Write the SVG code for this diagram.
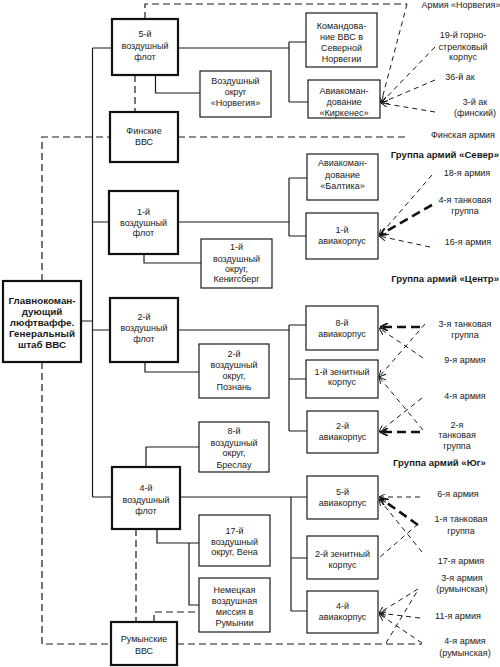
<svg xmlns="http://www.w3.org/2000/svg" width="500" height="667" viewBox="0 0 500 667">
<style>
text{font-family:"Liberation Sans",Arial,sans-serif;font-size:9px;fill:#1a1a1a;text-anchor:middle}
.b{font-weight:bold;font-size:9.8px}
.g{font-weight:bold;font-size:9.6px;text-anchor:start}
.ge{font-weight:bold;font-size:9.6px;text-anchor:end}
.box{fill:#fff;stroke:#1a1a1a;stroke-width:1.2}
.tb{fill:#fff;stroke:#111;stroke-width:2.2}
.s{fill:none;stroke:#1a1a1a;stroke-width:1.2}
.d{fill:none;stroke:#1a1a1a;stroke-width:1.2;stroke-dasharray:7,4}
.a{fill:none;stroke:#1a1a1a;stroke-width:1;stroke-dasharray:5,4;marker-end:url(#ar)}
.n{fill:none;stroke:#1a1a1a;stroke-width:1;stroke-dasharray:5,4}
.t{fill:none;stroke:#111;stroke-width:2.6;stroke-dasharray:9,5;marker-end:url(#ar2)}
</style>
<defs>
<marker id="ar" viewBox="0 0 10 10" refX="10" refY="5" markerWidth="7" markerHeight="7" markerUnits="userSpaceOnUse" orient="auto">
<path d="M0,0 L10,5 L0,10" fill="none" stroke="#1a1a1a" stroke-width="1.4"/>
</marker>
<marker id="ar2" viewBox="0 0 10 10" refX="10" refY="5" markerWidth="8" markerHeight="8" markerUnits="userSpaceOnUse" orient="auto">
<path d="M0,0 L10,5 L0,10" fill="none" stroke="#111" stroke-width="2"/>
</marker>
</defs>
<rect width="500" height="667" fill="#fff"/>

<g id="connectors">
<path class="s" d="M81,321 H92.5 M92.5,48 V497 M92.5,48 H112 M92.5,222 H109 M92.5,330 H110 M92.5,497 H112"/>
<path class="s" d="M178,48 H289 M289,42 V102 M289,42 H306 M289,102 H308 M155.5,75 V93 H200"/>
<path class="s" d="M178,222 H289 M289,178 V236 M289,178 H307 M289,236 H306 M144,254 V263 H201"/>
<path class="s" d="M178,330 H289 M289,325 V431 M289,325 H306 M289,379 H306 M289,431 H307 M145,362 V372 H199 M146,467 V447 H199"/>
<path class="s" d="M180,497 H307 M291,497 V611 M291,558 H307 M291,611 H307 M157,529 V543 H199 M189,543 V605 H199"/>
<path class="d" d="M135,75 V112 M145,19 V4 H407 M42,281 V137 H110 M178,137 H408 M42,362 V644 H111 M177,644 H422 M136,529 V622 M154,622 V612 H199"/>
<path class="a" d="M407,4 L381,103"/>
<path class="a" d="M435,47 L381,103"/>
<path class="a" d="M435,80 L381,103"/>
<path class="a" d="M435,112 L381,103"/>
<path class="a" d="M432,175 L379,236"/>
<path class="t" d="M432,205 L380,235"/>
<path class="a" d="M430,247 L379,236"/>
<path class="t" d="M420,327 L380,327"/>
<path class="a" d="M425,324 L379,377"/>
<path class="a" d="M423,358 L379,328"/>
<path class="a" d="M423,430 L379,377"/>
<path class="a" d="M422,398 L379,432"/>
<path class="t" d="M420,432 L380,432"/>
<path class="a" d="M420,497 L379,497"/>
<path class="t" d="M418,525 L380,498"/>
<path class="a" d="M422,552 L379,499"/>
<path class="n" d="M418,524 L379,558"/>
<path class="a" d="M418,589 L379,613"/>
<path class="a" d="M420,618 L379,613"/>
<path class="a" d="M422,643 L379,614"/>
<path class="n" d="M386,643 L418,590"/>
</g>

<g id="hq"><rect class="tb" x="3" y="281" width="78" height="81"/>
<text class="b" x="42" y="304">Главнокоман-</text><text class="b" x="42" y="315">дующий</text><text class="b" x="42" y="326">люфтваффе.</text><text class="b" x="42" y="337">Генеральный</text><text class="b" x="42" y="348">штаб ВВС</text></g>

<g id="lf5"><rect class="tb" x="112" y="19" width="66" height="56"/>
<text x="145" y="37">5-й</text><text x="145" y="49">воздушный</text><text x="145" y="60">флот</text></g>
<g id="finvvs"><rect class="tb" x="110" y="112" width="68" height="50"/>
<text x="144" y="134">Финские</text><text x="144" y="145">ВВС</text></g>
<g id="lf1"><rect class="tb" x="109" y="191" width="69" height="63"/>
<text x="143.5" y="215">1-й</text><text x="143.5" y="226">воздушный</text><text x="143.5" y="236">флот</text></g>
<g id="lf2"><rect class="tb" x="110" y="298" width="68" height="64"/>
<text x="144" y="320">2-й</text><text x="144" y="331">воздушный</text><text x="144" y="342">флот</text></g>
<g id="lf4"><rect class="tb" x="112" y="467" width="68" height="62"/>
<text x="146" y="491">4-й</text><text x="146" y="503">воздушный</text><text x="146" y="514">флот</text></g>
<g id="romvvs"><rect class="tb" x="111" y="622" width="66" height="43"/>
<text x="144" y="642">Румынские</text><text x="144" y="654">ВВС</text></g>

<g id="lgnorw"><rect class="box" x="200" y="71" width="71" height="46"/>
<text x="235.5" y="84">Воздушный</text><text x="235.5" y="95">округ</text><text x="235.5" y="106">«Норвегия»</text></g>
<g id="kdonorw"><rect class="box" x="306" y="13" width="71" height="54"/>
<text x="341.5" y="29">Командова-</text><text x="341.5" y="40">ние ВВС в</text><text x="341.5" y="51">Северной</text><text x="341.5" y="62">Норвегии</text></g>
<g id="kirk"><rect class="box" x="308" y="80" width="72" height="38"/>
<text x="344" y="94">Авиакоман-</text><text x="344" y="105">дование</text><text x="344" y="116">«Киркенес»</text></g>
<g id="balt"><rect class="box" x="307" y="154" width="71" height="46"/>
<text x="342.5" y="166">Авиакоман-</text><text x="342.5" y="178">дование</text><text x="342.5" y="189">«Балтика»</text></g>
<g id="fk1"><rect class="box" x="306" y="213" width="72" height="46"/>
<text x="342" y="233">1-й</text><text x="342" y="244">авиакорпус</text></g>
<g id="lg1"><rect class="box" x="201" y="239" width="71" height="49"/>
<text x="236.5" y="250">1-й</text><text x="236.5" y="262">воздушный</text><text x="236.5" y="272">округ,</text><text x="236.5" y="282">Кенигсберг</text></g>
<g id="fk8"><rect class="box" x="306" y="306" width="72" height="44"/>
<text x="342" y="326">8-й</text><text x="342" y="337">авиакорпус</text></g>
<g id="flak1"><rect class="box" x="306" y="360" width="72" height="38"/>
<text x="342" y="375">1-й зенитный</text><text x="342" y="385">корпус</text></g>
<g id="fk2"><rect class="box" x="307" y="411" width="71" height="42"/>
<text x="342.5" y="429">2-й</text><text x="342.5" y="440">авиакорпус</text></g>
<g id="lg2"><rect class="box" x="199" y="344" width="70" height="54"/>
<text x="234" y="357">2-й</text><text x="234" y="368">воздушный</text><text x="234" y="379">округ,</text><text x="234" y="390">Познань</text></g>
<g id="lg8"><rect class="box" x="199" y="422" width="70" height="50"/>
<text x="234" y="434">8-й</text><text x="234" y="446">воздушный</text><text x="234" y="456">округ,</text><text x="234" y="468">Бреслау</text></g>
<g id="fk5"><rect class="box" x="307" y="476" width="71" height="43"/>
<text x="342.5" y="495">5-й</text><text x="342.5" y="506">авиакорпус</text></g>
<g id="flak2"><rect class="box" x="307" y="536" width="71" height="43"/>
<text x="342.5" y="557">2-й зенитный</text><text x="342.5" y="568">корпус</text></g>
<g id="fk4"><rect class="box" x="307" y="591" width="71" height="42"/>
<text x="342.5" y="609">4-й</text><text x="342.5" y="620">авиакорпус</text></g>
<g id="lg17"><rect class="box" x="199" y="515" width="71" height="51"/>
<text x="234.5" y="534">17-й</text><text x="234.5" y="545">воздушный</text><text x="234.5" y="555">округ, Вена</text></g>
<g id="mission"><rect class="box" x="199" y="578" width="71" height="54"/>
<text x="234.5" y="593">Немецкая</text><text x="234.5" y="604">воздушная</text><text x="234.5" y="615">миссия в</text><text x="234.5" y="626">Румынии</text></g>

<g id="labels">
<text x="461" y="8">Армия «Норвегия»</text>
<text x="463" y="38">19-й горно-</text><text x="463" y="50">стрелковый</text><text x="463" y="60">корпус</text>
<text x="460" y="80">36-й ак</text>
<text x="475" y="105">3-й ак</text><text x="475" y="116">(финский)</text>
<text x="463" y="138">Финская армия</text>
<text class="ge" x="499" y="158">Группа армий «Север»</text>
<text x="467" y="176">18-я армия</text>
<text x="465" y="203">4-я танковая</text><text x="465" y="214">группа</text>
<text x="468" y="245">16-я армия</text>
<text class="ge" x="499" y="282">Группа армий «Центр»</text>
<text x="465" y="327">3-я танковая</text><text x="465" y="338">группа</text>
<text x="465" y="363">9-я армия</text>
<text x="465" y="399">4-я армия</text>
<text x="457" y="428">2-я</text><text x="457" y="438">танковая</text><text x="457" y="449">группа</text>
<text class="g" x="393" y="466">Группа армий «Юг»</text>
<text x="458" y="497">6-я армия</text>
<text x="461" y="522">1-я танковая</text><text x="461" y="534">группа</text>
<text x="461" y="564">17-я армия</text>
<text x="462" y="581">3-я армия</text><text x="462" y="592">(румынская)</text>
<text x="458" y="619">11-я армия</text>
<text x="465" y="644">4-я армия</text><text x="465" y="656">(румынская)</text>
</g>
</svg>
